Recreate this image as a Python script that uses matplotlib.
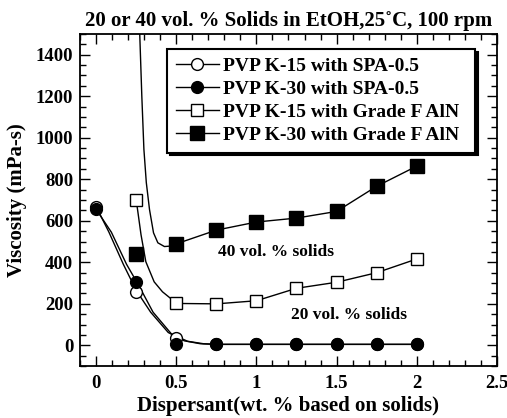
import matplotlib
import numpy as np
from matplotlib import pyplot as plt
from matplotlib.lines import Line2D
from matplotlib.ticker import MultipleLocator

matplotlib.use("Agg")

# measured points
x_spa = [0, 0.25, 0.5, 0.75, 1.0, 1.25, 1.5, 1.75, 2.0]
k15_spa = [668, 255, 35, 5, 5, 5, 5, 5, 5]
k30_spa = [655, 303, 5, 5, 5, 5, 5, 5, 5]

x_aln = [0.25, 0.5, 0.75, 1.0, 1.25, 1.5, 1.75, 2.0]
k15_aln = [700, 202, 200, 215, 275, 304, 350, 416]
k30_aln = [440, 489, 555, 594, 613, 645, 766, 863]

# hand-drawn guide curves
k15_spa_curve_x = [0, 0.08, 0.17, 0.25, 0.34, 0.45, 0.55, 0.65, 0.75, 1.0, 1.25, 1.5, 1.75, 2.0]
k15_spa_curve_y = [668, 545, 390, 265, 160, 62, 22, 8, 5, 5, 5, 5, 5, 5]
k30_spa_curve_x = [0, 0.095, 0.19, 0.265, 0.355, 0.47, 0.57, 0.67, 0.75, 1.0, 1.25, 1.5, 1.75, 2.0]
k30_spa_curve_y = [655, 545, 390, 290, 160, 55, 20, 8, 5, 5, 5, 5, 5, 5]
k15_aln_curve_x = [0.25, 0.26, 0.28, 0.31, 0.362, 0.414, 0.465, 0.5, 0.75, 1.0, 1.25, 1.5, 1.75, 2.0]
k15_aln_curve_y = [700, 645, 533, 403, 306, 258, 226, 202, 200, 215, 275, 304, 350, 416]
k30_aln_curve_x = [0.272, 0.285, 0.298, 0.313, 0.333, 0.358, 0.385, 0.426, 0.46, 0.5,
                   0.75, 1.0, 1.25, 1.5, 1.75, 2.0]
k30_aln_curve_y = [1500, 1200, 944, 784, 654, 542, 494, 476, 478, 489,
                   555, 594, 613, 645, 766, 863]

labels = [
    "PVP K-15 with SPA-0.5",
    "PVP K-30 with SPA-0.5",
    "PVP K-15 with Grade F AlN",
    "PVP K-30 with Grade F AlN",
]

plt.rcParams["font.family"] = ["Liberation Serif", "DejaVu Serif"]
plt.rcParams["font.weight"] = "bold"

fig = plt.figure(figsize=(5.07, 4.18), dpi=100)
ax = fig.add_axes([0.158, 0.124, 0.822, 0.795])

line_kw = dict(color="black", lw=1.0)
ax.plot(k15_spa_curve_x, k15_spa_curve_y, **line_kw)
ax.plot(k30_spa_curve_x, k30_spa_curve_y, **line_kw)
ax.plot(k15_aln_curve_x, k15_aln_curve_y, **line_kw)
ax.plot(k30_aln_curve_x, k30_aln_curve_y, **line_kw)

styles = [
    dict(marker="o", mfc="white", mec="black", ms=8.5, mew=1.0),
    dict(marker="o", mfc="black", mec="black", ms=8.5, mew=1.0),
    dict(marker="s", mfc="white", mec="black", ms=9, mew=1.0),
    dict(marker="s", mfc="black", mec="black", ms=9.5, mew=1.0),
]
ax.plot(x_spa, k15_spa, ls="none", zorder=3, **styles[0])
ax.plot(x_spa, k30_spa, ls="none", zorder=3, **styles[1])
ax.plot(x_aln, k15_aln, ls="none", zorder=3, **styles[2])
ax.plot(x_aln, k30_aln, ls="none", zorder=3, **styles[3])

handles = [Line2D([], [], color="black", lw=1.0, **s) for s in styles]
leg = ax.legend(
    handles, labels,
    loc="upper left", bbox_to_anchor=(0.209, 0.955, 0.738, 0), mode="expand",
    borderaxespad=0,
    prop=dict(size=14, weight="bold"), handlelength=2.2, handletextpad=0.2,
    labelspacing=0.27, borderpad=0.45, fancybox=False,
    shadow=dict(color="black", alpha=1.0),
)
leg.get_frame().set_edgecolor("black")
leg.get_frame().set_linewidth(1.5)
leg.get_frame().set_alpha(1.0)

ax.text(1.12, 450, "40 vol. % solids", ha="center", va="center", fontsize=12.5, fontweight="bold")
ax.text(1.58, 145, "20 vol. % solids", ha="center", va="center", fontsize=12.5, fontweight="bold")

ax.set_xlim(-0.1, 2.5)
ax.set_ylim(-100, 1500)
ax.xaxis.set_major_locator(MultipleLocator(0.5))
ax.xaxis.set_minor_locator(MultipleLocator(0.1))
ax.yaxis.set_major_locator(MultipleLocator(200))
ax.yaxis.set_minor_locator(MultipleLocator(50))
ax.set_xticks([0, 0.5, 1, 1.5, 2, 2.5], ["0", "0.5", "1", "1.5", "2", "2.5"])
ax.set_yticks(range(0, 1401, 200))
ax.tick_params(which="both", direction="in", top=True, right=True, width=1.0,
               labelsize=13.5)
ax.tick_params(axis="x", pad=6)
ax.tick_params(axis="y", pad=5)
ax.tick_params(which="major", length=7)
ax.tick_params(which="minor", length=4)
for spine in ax.spines.values():
    spine.set_linewidth(1.3)

ax.set_xlabel("Dispersant(wt. % based on solids)", fontsize=15, fontweight="bold", labelpad=3)
ax.set_ylabel("Viscosity (mPa-s)", fontsize=15, fontweight="bold", labelpad=6)
ax.set_title("20 or 40 vol. % Solids in EtOH,25˚C, 100 rpm", fontsize=15, fontweight="bold", pad=6)

fig.savefig("out.png", dpi=100)
